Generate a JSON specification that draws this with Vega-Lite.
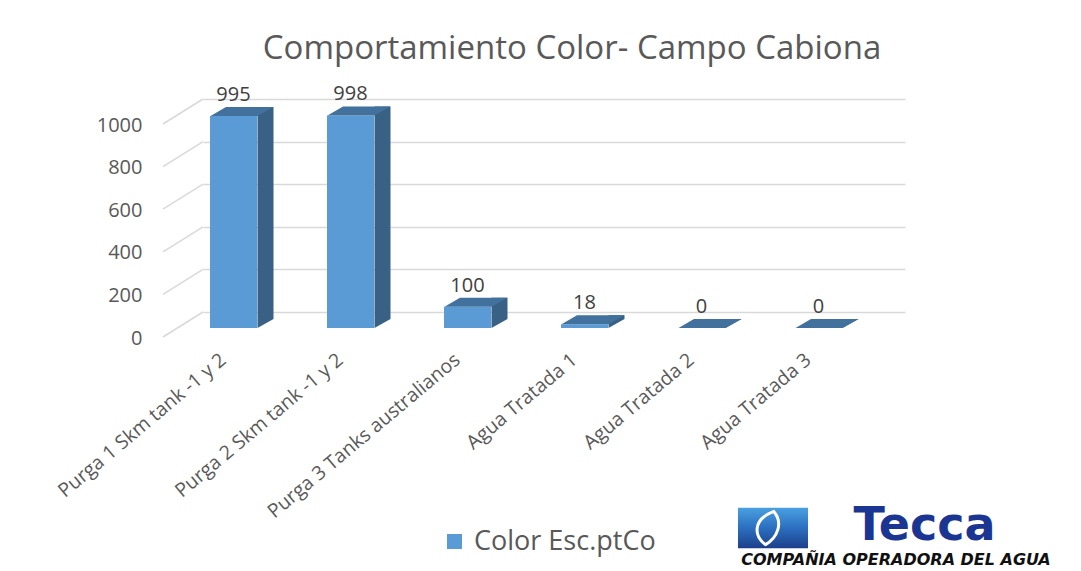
{
  "$schema": "https://vega.github.io/schema/vega-lite/v6.json",
  "width": 702,
  "height": 213,
  "autosize": {"type": "none"},
  "padding": {"left": 203, "top": 99, "right": 176, "bottom": 259},
  "background": "white",
  "title": {"text": "Comportamiento Color- Campo Cabiona", "font": "Open Sans", "fontSize": 33, "fontWeight": "normal", "color": "#595959", "offset": 18, "dx": 18},
  "config": {"view": {"stroke": null}},
  "datasets": {
    "barras": [
      {"categoria": "Purga 1 Skm tank -1 y 2", "valor": 995},
      {"categoria": "Purga 2 Skm tank -1 y 2", "valor": 998},
      {"categoria": "Purga 3 Tanks australianos", "valor": 100},
      {"categoria": "Agua Tratada 1", "valor": 18},
      {"categoria": "Agua Tratada 2", "valor": 0},
      {"categoria": "Agua Tratada 3", "valor": 0}
    ],
    "marcas": [
      {"tick": 0}, {"tick": 200}, {"tick": 400}, {"tick": 600}, {"tick": 800}, {"tick": 1000}
    ],
    "logo": [
      {"texto": "Tecca", "sub": "COMPAÑIA OPERADORA DEL AGUA"}
    ]
  },
  "data": {"name": "barras"},
  "encoding": {
    "x": {
      "field": "categoria", "type": "nominal", "sort": null,
      "scale": {"paddingInner": 0, "paddingOuter": 0},
      "axis": {"title": null, "domain": false, "ticks": false, "tickSize": 0, "labelAngle": -40, "labelAlign": "right", "labelBaseline": "middle", "labelOffset": -38, "labelPadding": 45, "labelFont": "Open Sans", "labelFontSize": 19.5, "labelColor": "#595959", "labelLimit": 0}
    }
  },
  "layer": [
    {
      "mark": {"type": "bar", "width": 16, "xOffset": 4, "yOffset": 7, "y2Offset": 7, "color": "#386185"},
      "encoding": {
        "y": {"field": "valor", "type": "quantitative", "scale": {"domain": [0, 1000], "nice": false},
          "axis": {"title": null, "format": "d", "values": [0, 200, 400, 600, 800, 1000], "grid": true, "gridColor": "#d9d9d9", "gridWidth": 1.5, "domain": false, "ticks": false, "tickSize": 0, "labelPadding": 61, "labelOffset": 26, "labelFont": "Open Sans", "labelFontSize": 20, "labelColor": "#595959"}},
        "y2": {"datum": 0}
      }
    },
    {
      "mark": {"type": "point", "shape": "M-1,-0.5625L-1,0.5625L1,-0.5625Z", "size": 256, "filled": true, "opacity": 1, "strokeWidth": 0, "color": "#386185", "xOffset": 4, "yOffset": 11.5},
      "encoding": {"y": {"datum": 0}}
    },
    {
      "mark": {"type": "bar", "width": 47, "xOffset": -28, "yOffset": 16, "y2Offset": 16},
      "encoding": {
        "y": {"field": "valor", "type": "quantitative"},
        "y2": {"datum": 0},
        "color": {"datum": "Color Esc.ptCo", "scale": {"range": ["#5b9bd5"]},
          "legend": {"title": null, "orient": "none", "legendX": 238, "legendY": 429, "padding": 0, "symbolType": "square", "symbolSize": 225, "symbolStrokeWidth": 0, "labelFont": "Open Sans", "labelFontSize": 27, "labelColor": "#595959", "labelOffset": 6, "labelLimit": 0}}
      }
    },
    {
      "mark": {"type": "point", "shape": "M-1,0.143L0.492,0.143L1,-0.143L-0.508,-0.143Z", "size": 3969, "filled": true, "opacity": 1, "strokeWidth": 0, "color": "#41719c", "xOffset": -19.5, "yOffset": 11.5},
      "encoding": {"y": {"field": "valor", "type": "quantitative"}}
    },
    {
      "mark": {"type": "text", "font": "Open Sans", "fontSize": 20, "color": "#404040", "baseline": "alphabetic", "xOffset": -28, "yOffset": 1},
      "encoding": {"y": {"field": "valor", "type": "quantitative"}, "text": {"field": "valor", "type": "quantitative"}}
    },
    {
      "data": {"name": "marcas"},
      "mark": {"type": "point", "shape": "M-1,0.625L1,-0.625", "size": 1600, "filled": false, "opacity": 1, "stroke": "#d9d9d9", "strokeWidth": 1.5, "xOffset": -78.5, "yOffset": 12.5},
      "encoding": {"x": {"datum": "Purga 1 Skm tank -1 y 2"}, "y": {"field": "tick", "type": "quantitative"}}
    },
    {
      "data": {"name": "logo"},
      "mark": {"type": "point", "shape": "M-1,-0.58L1,-0.58L1,0.58L-1,0.58Z", "size": 4900, "filled": true, "opacity": 1, "strokeWidth": 0,
        "fill": {"gradient": "linear", "x1": 0, "y1": 0, "x2": 0, "y2": 1, "stops": [{"offset": 0, "color": "#4aa0e0"}, {"offset": 0.5, "color": "#2b6fc0"}, {"offset": 1, "color": "#1d3f8a"}]},
        "xOffset": 43.5, "yOffset": 3},
      "encoding": {"x": {"datum": "Agua Tratada 2"}, "y": {"datum": -1000}}
    },
    {
      "data": {"name": "logo"},
      "mark": {"type": "point", "shape": "M0.5,-1C1.1,-0.3 0.7,0.6 0,1C-0.7,0.5 -0.8,-0.5 0.5,-1Z", "size": 1100, "filled": false, "opacity": 1, "stroke": "white", "strokeWidth": 3, "xOffset": 36, "yOffset": 3},
      "encoding": {"x": {"datum": "Agua Tratada 2"}, "y": {"datum": -1000}}
    },
    {
      "data": {"name": "logo"},
      "mark": {"type": "text", "font": "DejaVu Sans", "fontWeight": "bold", "fontSize": 46, "color": "#1b3692", "align": "center", "baseline": "middle", "xOffset": 195, "yOffset": 1},
      "encoding": {"x": {"datum": "Agua Tratada 2"}, "y": {"datum": -1000}, "text": {"field": "texto"}}
    },
    {
      "data": {"name": "logo"},
      "mark": {"type": "text", "font": "DejaVu Sans", "fontWeight": "bold", "fontStyle": "italic", "fontSize": 16, "color": "#111111", "align": "center", "baseline": "middle", "xOffset": 166.5, "yOffset": 35},
      "encoding": {"x": {"datum": "Agua Tratada 2"}, "y": {"datum": -1000}, "text": {"field": "sub"}}
    }
  ]
}
